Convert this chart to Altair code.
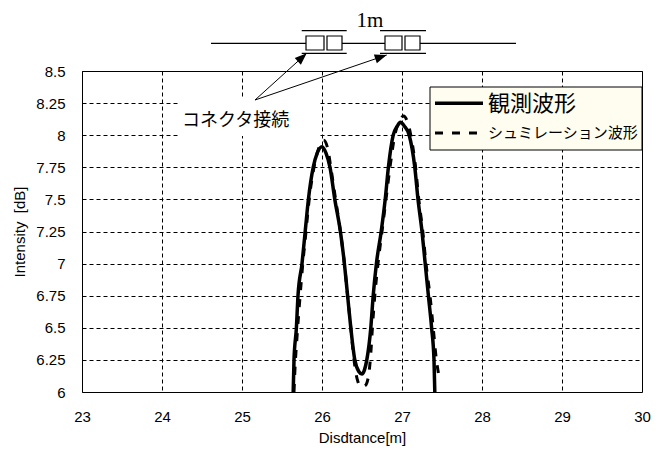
import altair as alt
import pandas as pd

# ---------------- data ----------------
SERIES = ["観測波形", "シュミレーション波形"]

OBS_X = [25.64, 25.65, 25.68, 25.70, 25.75, 25.79, 25.83, 25.89, 25.94, 26.00,
         26.05, 26.10, 26.16, 26.23, 26.28, 26.32, 26.36, 26.41, 26.46, 26.50,
         26.53, 26.56, 26.61, 26.64, 26.68, 26.74, 26.79, 26.83, 26.89, 26.94,
         26.98, 27.03, 27.09, 27.16, 27.20, 27.25, 27.29, 27.33, 27.37, 27.40, 27.41]
OBS_Y = [6.00, 6.25, 6.50, 6.75, 7.00, 7.25, 7.50, 7.75, 7.86, 7.91,
         7.86, 7.75, 7.50, 7.25, 7.00, 6.75, 6.50, 6.25, 6.16, 6.14,
         6.17, 6.25, 6.50, 6.75, 7.00, 7.25, 7.50, 7.75, 8.00, 8.07,
         8.10, 8.07, 8.00, 7.75, 7.50, 7.25, 7.00, 6.75, 6.50, 6.25, 6.00]

SIM_X = [25.65, 25.66, 25.69, 25.72, 25.76, 25.80, 25.84, 25.90, 25.96, 26.02,
         26.07, 26.11, 26.17, 26.23, 26.28, 26.32, 26.36, 26.40, 26.44, 26.49,
         26.54, 26.58, 26.61, 26.63, 26.66, 26.70, 26.75, 26.80, 26.85, 26.91,
         26.97, 27.02, 27.07, 27.11, 27.17, 27.21, 27.26, 27.30, 27.35, 27.39,
         27.43, 27.46]
SIM_Y = [6.00, 6.15, 6.45, 6.70, 7.00, 7.25, 7.50, 7.75, 7.90, 7.96,
         7.90, 7.75, 7.50, 7.25, 7.00, 6.75, 6.50, 6.25, 6.10, 6.04,
         6.05, 6.12, 6.30, 6.50, 6.75, 7.00, 7.25, 7.50, 7.75, 8.00,
         8.11, 8.15, 8.10, 8.00, 7.75, 7.50, 7.25, 7.00, 6.75, 6.50,
         6.25, 6.13]

X_TICKS = [23, 24, 25, 26, 27, 28, 29, 30]
Y_TICKS = [6, 6.25, 6.5, 6.75, 7, 7.25, 7.5, 7.75, 8, 8.25, 8.5]
X_TITLE = "Disdtance[m]"
Y_TITLE = "Intensity\u00a0 [dB]"
ANNOT_TEXT = "コネクタ接続"
SPAN_TEXT = "1m"

obs = pd.DataFrame({"d": OBS_X, "v": OBS_Y, "s": SERIES[0]})
sim = pd.DataFrame({"d": SIM_X, "v": SIM_Y, "s": SERIES[1]})
one = pd.DataFrame({"k": [0]})

JP = "Noto Sans CJK JP"
NUM = "Liberation Sans"

# ---------------- curves ----------------
xscale = alt.Scale(domain=[23, 30], nice=False, zero=False)
yscale = alt.Scale(domain=[6, 8.5], nice=False, zero=False)
xaxis = alt.Axis(values=X_TICKS, format="d", title=X_TITLE, labelPadding=17,
                 titlePadding=6, labelFlush=False, grid=True, labelOverlap=False)
yaxis = alt.Axis(values=Y_TICKS, format=".3~g", title=Y_TITLE, labelPadding=17,
                 titlePadding=8, grid=True, labelOverlap=False)


def enc():
    return dict(x=alt.X("d:Q", scale=xscale, axis=xaxis),
                y=alt.Y("v:Q", scale=yscale, axis=yaxis))


obs_line = alt.Chart(obs).mark_line(color="black", strokeWidth=3.5,
                                    interpolate="monotone").encode(**enc())
sim_line = alt.Chart(sim).mark_line(color="black", strokeWidth=3, strokeDash=[8, 9],
                                    interpolate="monotone").encode(**enc())


# ---------------- annotation helpers (pixel positions in plot area) ----------------
def seg(x1, y1, x2, y2, w=1.2, dash=None):
    kw = dict(color="black", strokeWidth=w)
    if dash:
        kw["strokeDash"] = dash
    return alt.Chart(one).mark_rule(**kw).encode(
        x=alt.value(x1), y=alt.value(y1), x2=alt.value(x2), y2=alt.value(y2))


def box(x1, y1, x2, y2, fill, stroke=None, w=1):
    kw = dict(fill=fill, strokeWidth=w)
    if stroke:
        kw["stroke"] = stroke
    else:
        kw["strokeOpacity"] = 0
    return alt.Chart(one).mark_rect(**kw).encode(
        x=alt.value(x1), y=alt.value(y1), x2=alt.value(x2), y2=alt.value(y2))


def label(txt, x, y, font, size, align="left", baseline="alphabetic"):
    return alt.Chart(one).mark_text(text=txt, font=font, fontSize=size, align=align,
                                    baseline=baseline, color="black").encode(
        x=alt.value(x), y=alt.value(y))


def head(x, y, ang):
    return alt.Chart(one).mark_point(shape="M0,0L-0.38,1L0.38,1Z", filled=True,
                                     color="black", opacity=1, size=576,
                                     angle=ang).encode(x=alt.value(x), y=alt.value(y))


layers = [obs_line, sim_line]

# text box "コネクタ接続"
layers.append(box(96, 28, 238, 65, "white"))
layers.append(label(ANNOT_TEXT, 100, 55, JP, 18))

# arrows
layers.append(seg(173, 29, 224.7, -17.7, w=1))
layers.append(seg(173, 29, 304.7, -16, w=1))
layers.append(head(224.7, -17.7, 47.9))
layers.append(head(304.7, -16, 71.1))

# cable diagram
layers.append(seg(129, -27.7, 224, -27.7, w=1.3))
layers.append(seg(260, -27.7, 303, -27.7, w=1.3))
layers.append(seg(338, -27.7, 434, -27.7, w=1.3))
for (a, b) in [(219.7, 264.7), (298, 344)]:
    layers.append(seg(a, -40.3, b, -40.3, w=1.3))
    layers.append(seg(a, -17.7, b, -17.7, w=1.3))
for (a, b) in [(224, 242), (245, 260), (303, 320), (323, 338)]:
    layers.append(box(a, -35, b, -21, "white", stroke="black", w=1.2))
layers.append(label(SPAN_TEXT, 288, -44, "Liberation Serif", 21, align="center"))

# legend
layers.append(box(348, 16, 560, 79, "#fefdef", stroke="black", w=1))
layers.append(seg(353, 32.3, 401, 32.3, w=3.5))
layers.append(seg(353, 62, 401, 62, w=3, dash=[8, 9]))
layers.append(label(SERIES[0], 406, 33, JP, 22, baseline="middle"))
layers.append(label(SERIES[1], 406, 62, JP, 15, baseline="middle"))

chart = alt.layer(*layers).properties(
    width=560, height=321,
    padding={"left": 74, "top": 63, "right": 15, "bottom": 57},
    autosize=alt.AutoSizeParams(type="none"),
    background="white",
).configure_view(
    stroke="black", strokeWidth=1
).configure_axis(
    gridColor="black", gridDash=[4, 3], gridWidth=1, gridOpacity=1,
    domain=False, ticks=False, tickSize=0,
    labelFont=NUM, labelFontSize=15, labelColor="black",
    titleFont=NUM, titleFontSize=15, titleFontWeight="normal", titleColor="black",
)

chart.save("out.html", embed_options={"renderer": "svg", "actions": False})
